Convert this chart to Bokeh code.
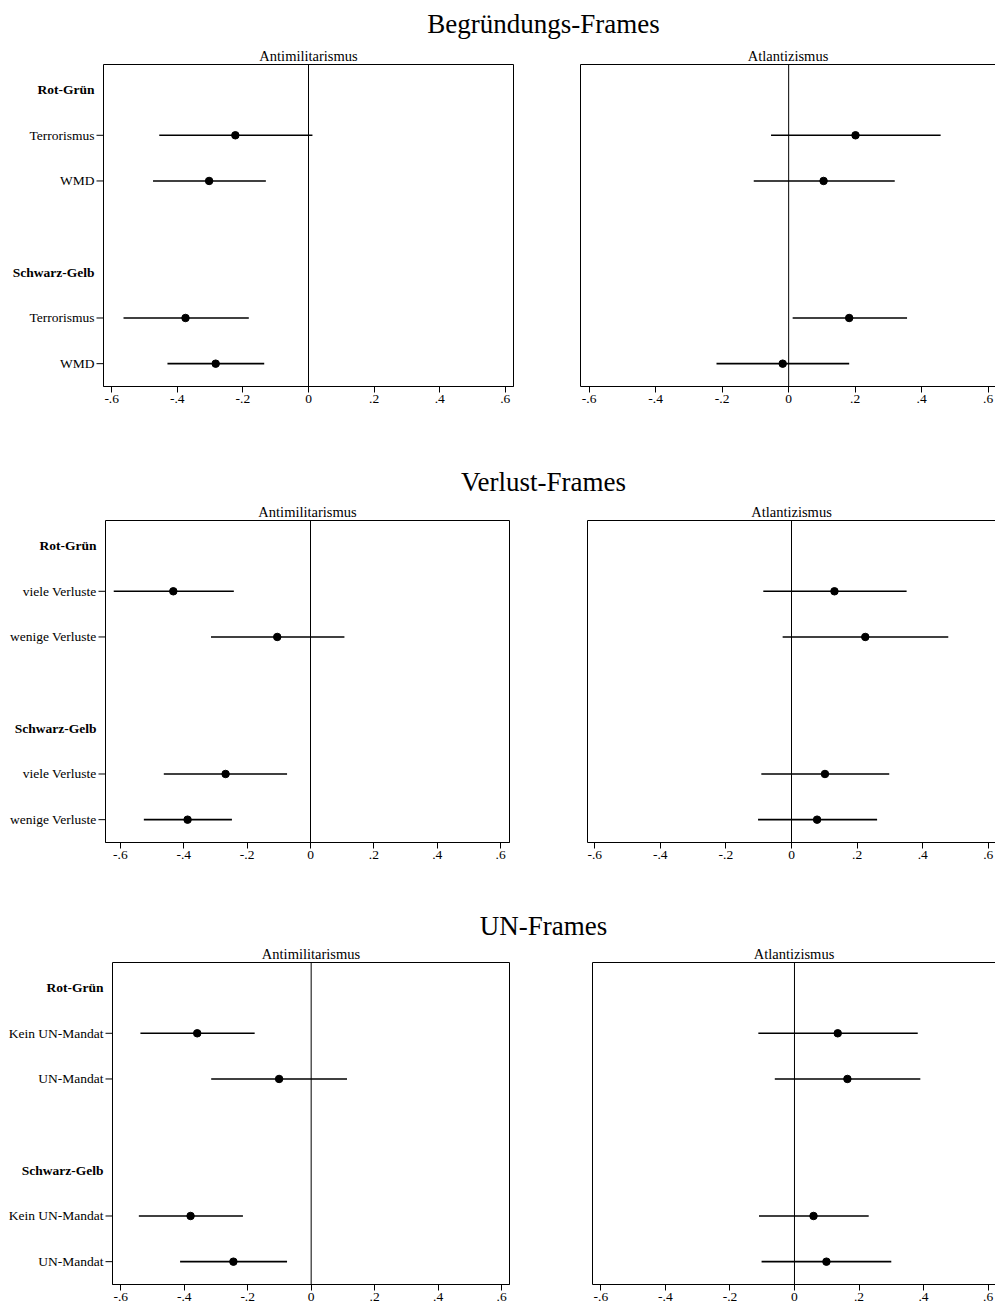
from bokeh.plotting import figure
from bokeh.models import Range1d, FixedTicker, Span, LinearAxis, CustomJSTickFormatter, ColumnDataSource
from bokeh.layouts import column, row
from bokeh.core.properties import value
from bokeh.embed import file_html
from bokeh.resources import INLINE

# ---------------- data ----------------
frame_titles = ["Begründungs-Frames", "Verlust-Frames", "UN-Frames"]
panel_titles = ["Antimilitarismus", "Atlantizismus"]
groups = ["Rot-Grün", "Schwarz-Gelb"]

begr_labels = ["Terrorismus", "WMD", "Terrorismus", "WMD"]
verl_labels = ["viele Verluste", "wenige Verluste", "viele Verluste", "wenige Verluste"]
un_labels = ["Kein UN-Mandat", "UN-Mandat", "Kein UN-Mandat", "UN-Mandat"]

begr_anti_est = [-0.223, -0.303, -0.375, -0.283]
begr_anti_lo = [-0.455, -0.474, -0.564, -0.430]
begr_anti_hi = [0.012, -0.130, -0.182, -0.135]
begr_atl_est = [0.201, 0.105, 0.182, -0.018]
begr_atl_lo = [-0.053, -0.105, 0.012, -0.217]
begr_atl_hi = [0.457, 0.319, 0.356, 0.182]

verl_anti_est = [-0.433, -0.105, -0.268, -0.388]
verl_anti_lo = [-0.621, -0.314, -0.463, -0.526]
verl_anti_hi = [-0.242, 0.107, -0.074, -0.248]
verl_atl_est = [0.131, 0.225, 0.102, 0.078]
verl_atl_lo = [-0.086, -0.027, -0.092, -0.102]
verl_atl_hi = [0.351, 0.478, 0.298, 0.261]

un_anti_est = [-0.359, -0.101, -0.380, -0.245]
un_anti_lo = [-0.538, -0.315, -0.543, -0.413]
un_anti_hi = [-0.178, 0.113, -0.215, -0.076]
un_atl_est = [0.134, 0.164, 0.059, 0.099]
un_atl_lo = [-0.112, -0.061, -0.110, -0.102]
un_atl_hi = [0.382, 0.390, 0.230, 0.300]

x_ticks = [-0.6, -0.4, -0.2, 0, 0.2, 0.4, 0.6]

FONT = "Liberation Serif"
W = 995
TICK_OUT = 7

# positions derived from structure: heading, then items, then one blank slot
per_group = len(begr_labels) // len(groups)
heading_pos = [g * (per_group + 2) for g in range(len(groups))]
item_pos = [g * (per_group + 2) + 1 + i for g in range(len(groups)) for i in range(per_group)]
Y_START, Y_END = per_group * 2 + 2.5, -0.55

x_fmt = CustomJSTickFormatter(code="""
if (Math.abs(tick) < 1e-9) { return "0"; }
var s = Math.abs(tick).toFixed(1).replace(/^0/, "");
return (tick < 0 ? "-" : "") + s;
""")


def bare(p):
    p.axis.visible = False
    p.grid.visible = False
    p.outline_line_color = None
    p.background_fill_color = "white"
    p.border_fill_color = "white"


def title_fig(text, h, center):
    p = figure(width=W, height=h, x_range=Range1d(0, W), y_range=Range1d(0, h),
               output_backend="svg", toolbar_location=None, min_border=0)
    bare(p)
    src = ColumnDataSource(dict(x=[543], y=[h - center], t=[text]))
    p.text(x="x", y="y", text="t", source=src, text_font=value(FONT),
           text_font_size="27px", text_align="center", text_baseline="middle",
           text_color="black")
    return p


def label_fig(labels, width, height, mb_top, mb_bottom):
    # y-axis of the left panel: tick marks plus labels (bold group headings)
    p = figure(width=width, height=height, x_range=Range1d(0, width),
               y_range=Range1d(Y_START, Y_END), output_backend="svg",
               toolbar_location=None, min_border_left=0, min_border_right=0,
               min_border_top=mb_top, min_border_bottom=mb_bottom)
    bare(p)
    tick_x = width - TICK_OUT
    ts = ColumnDataSource(dict(x0=[tick_x] * len(item_pos), x1=[width] * len(item_pos), y=item_pos))
    p.segment(x0="x0", y0="y", x1="x1", y1="y", source=ts, line_color="black", line_width=1)
    hs = ColumnDataSource(dict(x=[tick_x] * len(groups), y=heading_pos, t=groups))
    p.text(x="x", y="y", text="t", source=hs, x_offset=-2, text_font=value(FONT),
           text_font_size="13.5px", text_font_style="bold", text_align="right",
           text_baseline="middle", text_color="black")
    its = ColumnDataSource(dict(x=[tick_x] * len(labels), y=item_pos, t=labels))
    p.text(x="x", y="y", text="t", source=its, x_offset=-2, text_font=value(FONT),
           text_font_size="13.5px", text_align="right",
           text_baseline="middle", text_color="black")
    return p


def panel(est, lo, hi, title, is_left, xs, xe, width, height,
          mb_left, mb_right, mb_top, mb_bottom):
    p = figure(width=width, height=height, x_range=Range1d(xs, xe),
               y_range=Range1d(Y_START, Y_END),
               output_backend="svg", toolbar_location=None,
               min_border_left=mb_left, min_border_right=mb_right,
               min_border_top=mb_top, min_border_bottom=mb_bottom)
    p.grid.visible = False
    p.background_fill_color = "white"
    p.border_fill_color = "white"

    p.title.text = title
    p.title.align = "center"
    p.title.text_font = FONT
    p.title.text_font_size = "14.5px"
    p.title.text_font_style = "normal"
    p.title.text_color = "black"
    p.title.standoff = 2

    xa = p.xaxis[0]
    xa.ticker = FixedTicker(ticks=x_ticks)
    xa.formatter = x_fmt
    xa.major_tick_out = 6
    xa.major_tick_in = 0
    xa.minor_tick_line_color = None
    xa.major_label_standoff = 2
    xa.major_label_text_font = FONT
    xa.major_label_text_font_size = "13.5px"
    xa.major_label_text_color = "black"
    xa.axis_line_color = "black"
    xa.major_tick_line_color = "black"

    if is_left:
        p.yaxis.visible = False
        p.outline_line_color = "black"
    else:
        ya = p.yaxis[0]
        ya.ticker = FixedTicker(ticks=[])
        ya.minor_tick_line_color = None
        ya.axis_line_color = "black"
        ya.major_tick_in = 0
        ya.major_tick_out = 0
        ya.major_label_standoff = 0
        p.outline_line_color = None
        top = LinearAxis(ticker=FixedTicker(ticks=[]), major_tick_out=0,
                         major_tick_in=0, major_label_standoff=0,
                         minor_tick_line_color=None, axis_line_color="black")
        p.add_layout(top, "above")

    p.add_layout(Span(location=0, dimension="height", line_color="black", line_width=1))

    src = ColumnDataSource(dict(y=item_pos, est=est, lo=lo, hi=hi))
    p.segment(x0="lo", y0="y", x1="hi", y1="y", source=src, line_color="black", line_width=1.6)
    p.scatter(x="est", y="y", source=src, size=7.5, color="black")
    return p


def make_row(labels, anti, atl, frame_left, frame_right_a, right_frame_left,
             a_range, b_range, height, mb_top, mb_bottom):
    lab_w = frame_left
    gap_split = (frame_right_a + right_frame_left) // 2
    lf = label_fig(labels, lab_w, height, mb_top, mb_bottom)
    pa = panel(*anti, panel_titles[0], True, a_range[0], a_range[1],
               gap_split - lab_w, height, 0, gap_split - frame_right_a,
               mb_top, mb_bottom)
    pb = panel(*atl, panel_titles[1], False, b_range[0], b_range[1],
               W - gap_split, height, right_frame_left - gap_split, 0,
               mb_top, mb_bottom)
    return row(lf, pa, pb)


t1 = title_fig(frame_titles[0], 44, 23)
r1 = make_row(begr_labels,
              (begr_anti_est, begr_anti_lo, begr_anti_hi),
              (begr_atl_est, begr_atl_lo, begr_atl_hi),
              103, 513, 580, (-0.625, 0.625), (-0.626, 0.622), 396, 19, 54)

t2 = title_fig(frame_titles[1], 60, 41)
r2 = make_row(verl_labels,
              (verl_anti_est, verl_anti_lo, verl_anti_hi),
              (verl_atl_est, verl_atl_lo, verl_atl_hi),
              105, 509, 587, (-0.647, 0.628), (-0.622, 0.622), 380, 19, 38)

t3 = title_fig(frame_titles[2], 62, 45)
r3 = make_row(un_labels,
              (un_anti_est, un_anti_lo, un_anti_hi),
              (un_atl_est, un_atl_lo, un_atl_hi),
              112, 509, 592, (-0.626, 0.625), (-0.626, 0.623), 365, 19, 23)

layout = column(t1, r1, t2, r2, t3, r3)

open("out.html", "w").write(file_html(layout, INLINE))
